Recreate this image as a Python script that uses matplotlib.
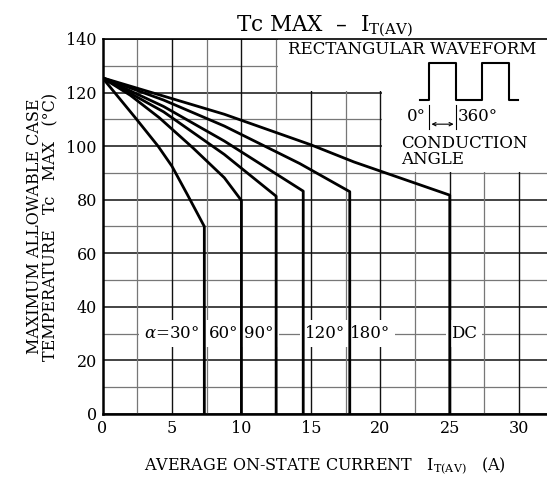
import matplotlib.pyplot as plt
from matplotlib.patches import Rectangle

plt.rcParams['font.family'] = ['DejaVu Serif']
plt.rcParams['mathtext.fontset'] = 'dejavuserif'

# curves: (current A, case temp C)
x_30 = [0, 2.3, 4.0, 5.0, 6.1, 7.33, 7.33]
y_30 = [125.5, 111, 100, 92.5, 82, 70, 0]
x_60 = [0, 2.0, 4.09, 6.5, 8.77, 10.0, 10.0]
y_60 = [125.5, 119, 110.6, 99.4, 88.2, 79.7, 0]
x_90 = [0, 4.4, 8.77, 12.5, 12.5]
y_90 = [125.5, 112.8, 96.9, 81.3, 0]
x_120 = [0, 4.4, 8.77, 14.45, 14.45]
y_120 = [125.5, 114.8, 101.9, 83.2, 0]
x_180 = [0, 4.4, 8.77, 14.2, 17.8, 17.8]
y_180 = [125.5, 117.2, 107.5, 93.5, 83.0, 0]
x_dc = [0, 8.77, 15.0, 18.1, 25.0, 25.0]
y_dc = [125.5, 111.9, 100.5, 94.1, 81.7, 0]

curves = [(x_30, y_30), (x_60, y_60), (x_90, y_90),
          (x_120, y_120), (x_180, y_180), (x_dc, y_dc)]

angle_labels = [r'$\alpha$=30°', '60°', '90°', '120°', '180°', 'DC']
label_x = [5.0, 8.75, 11.25, 16.0, 19.25, 26.0]
label_y = 30

x_ticks = [0, 5, 10, 15, 20, 25, 30]
y_ticks = [0, 20, 40, 60, 80, 100, 120, 140]

# rectangular waveform sketch
wave_x = [22.83, 23.48, 23.48, 25.48, 25.48, 27.35, 27.35, 29.27, 29.27, 29.92]
wave_y = [117.1, 117.1, 131.2, 131.2, 117.1, 117.1, 131.2, 131.2, 117.1, 117.1]

fig = plt.figure(figsize=(5.47, 4.79), dpi=100)
ax = fig.add_axes([0.1874, 0.1357, 0.8126, 0.7829])
ax.set_xlim(0, 32)
ax.set_ylim(0, 140)

# grid
for v in range(0, 141, 10):
    if v % 20 == 0:
        ax.axhline(v, color='#111', lw=1.1, zorder=1)
    else:
        ax.axhline(v, color='#777', lw=0.9, zorder=1)
for i in range(1, 13):
    v = i * 2.5
    if i % 2 == 0:
        ax.axvline(v, color='#111', lw=1.0, zorder=1)
    else:
        ax.axvline(v, color='#777', lw=0.9, zorder=1)

# blank areas for the inset text
ax.add_patch(Rectangle((12.6, 120.4), 20, 20, facecolor='white', edgecolor='none', zorder=1.5))
ax.add_patch(Rectangle((20.1, 90.4), 12, 50, facecolor='white', edgecolor='none', zorder=1.5))

for xs, ys in curves:
    ax.plot(xs, ys, color='black', lw=2.0, zorder=3)

for lab, lx in zip(angle_labels, label_x):
    ax.text(lx, label_y, lab, ha='center', va='center', fontsize=12, zorder=2,
            bbox=dict(facecolor='white', edgecolor='none', boxstyle='square,pad=0.3'))

# waveform inset
ax.plot(wave_x, wave_y, color='black', lw=1.5, zorder=3)
ax.plot([23.48, 23.48], [106.5, 115.5], color='black', lw=0.8, zorder=3)
ax.plot([25.48, 25.48], [106.5, 115.5], color='black', lw=0.8, zorder=3)
ax.annotate('', xy=(23.48, 108.2), xytext=(25.48, 108.2),
            arrowprops=dict(arrowstyle='<->', lw=0.8, mutation_scale=6), zorder=3)
ax.text(23.3, 111, '0°', ha='right', va='center', fontsize=12, zorder=3)
ax.text(25.6, 111, '360°', ha='left', va='center', fontsize=12, zorder=3)
ax.text(22.3, 136, 'RECTANGULAR WAVEFORM', ha='center', va='center', fontsize=12, zorder=3)
ax.text(21.5, 98, 'CONDUCTION\nANGLE', ha='left', va='center', fontsize=12,
        linespacing=0.85, zorder=3)

ax.set_xticks(x_ticks)
ax.set_yticks(y_ticks)
ax.tick_params(length=0, labelsize=11.5, pad=4)
for s in ['left', 'bottom']:
    ax.spines[s].set_linewidth(1.8)
ax.spines['top'].set_linewidth(1.2)
ax.spines['right'].set_visible(False)

ax.set_title(r'Tc MAX  –  I$_{\mathrm{T(AV)}}$', fontsize=15.5, pad=5)
ax.set_xlabel(r'AVERAGE ON-STATE CURRENT   I$_{\mathrm{T(AV)}}$   (A)', fontsize=11.5, labelpad=14)
ax.set_ylabel('MAXIMUM ALLOWABLE CASE\nTEMPERATURE   Tc   MAX   (°C)', fontsize=11.5,
              linespacing=0.95)
ax.yaxis.set_label_coords(-0.098, 0.5)

fig.savefig('out.png', dpi=100)
